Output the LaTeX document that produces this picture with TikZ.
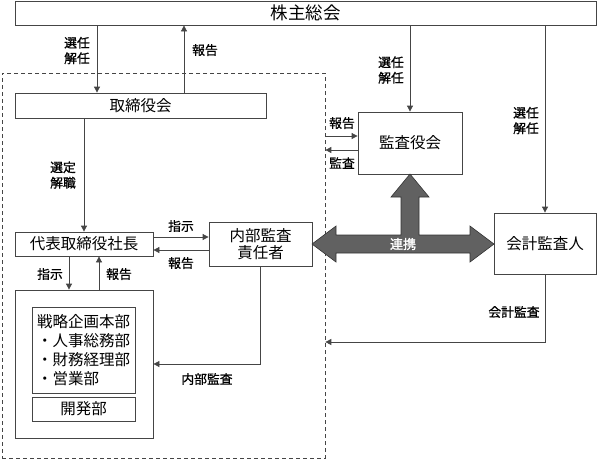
\documentclass[tikz,border=0pt]{standalone}
\usepackage{fontspec}
\setmainfont{Noto Sans CJK JP}
\newfontfamily\lblfont[FakeBold=0.8]{Noto Sans CJK JP}
\newfontfamily\rkfont[FakeBold=1.5]{Noto Sans CJK JP}
\usetikzlibrary{arrows.meta}
\definecolor{linec}{HTML}{454545}
\definecolor{bigfill}{HTML}{616161}
\begin{document}
\begin{tikzpicture}[x=1pt,y=-1pt,
  box/.style={draw=linec, line width=0.8pt, fill=white, inner sep=0pt, align=center, font=\fontsize{15.5}{17}\selectfont},
  lbl/.style={inner sep=0pt, align=center, font=\lblfont\fontsize{12.8}{15.5}\selectfont},
  arr/.style={draw=linec, line width=0.8pt, -{Triangle[length=6pt,width=6pt]}},
  grpbox/.style={draw=linec, line width=0.7pt, dash pattern=on 4pt off 3pt, inner sep=0pt}]
\useasboundingbox (0,0) rectangle (597,459);
% helper coordinates
\coordinate (x97) at (97,0);
\coordinate (x184) at (184,0);
\coordinate (x69) at (69,0);
\coordinate (x99) at (99,0);
\coordinate (y136) at (0,136);
\coordinate (y150) at (0,150);
\coordinate (y237) at (0,237);
\coordinate (y250) at (0,250);
\coordinate (y342) at (0,342);
% dashed group
\node[grpbox, minimum width=323pt, minimum height=385pt] (grp) at (163.5,265.5) {};
% boxes
\node[box, minimum width=581pt, minimum height=24pt, font=\fontsize{17.5}{19}\selectfont] (sh) at (305.5,13) {株主総会};
\node[box, minimum width=251pt, minimum height=25pt] (tb) at (140.5,105.5) {取締役会};
\node[box, minimum width=104pt, minimum height=62pt] (ka) at (410,143) {監査役会};
\node[box, minimum width=102pt, minimum height=61pt] (ks) at (545,243.5) {会計監査人};
\node[box, minimum width=138pt, minimum height=24pt] (dp) at (84,244) {代表取締役社長};
\node[box, minimum width=103pt, minimum height=44pt] (nb) at (260.5,244) {内部監査\\責任者};
\node[box, minimum width=138pt, minimum height=148pt] (dept) at (84,364) {};
\node[box, minimum width=103pt, minimum height=86pt, align=left, font=\fontsize{15.5}{19}\selectfont] (sen) at (83.5,350) {戦略企画本部\\・人事総務部\\・財務経理部\\・営業部};
\node[box, minimum width=103pt, minimum height=24pt] (kai) at (83.5,409) {開発部};
% connectors
\draw[arr] (x97 |- sh.south) -- (x97 |- tb.north);
\draw[arr] (x184 |- tb.north) -- (x184 |- sh.south);
\draw[arr] (tb.south -| dp.north) -- (dp.north);
\draw[arr] (y237 -| dp.east) -- (y237 -| nb.west);
\draw[arr] (y250 -| nb.west) -- (y250 -| dp.east);
\draw[arr] (x69 |- dp.south) -- (x69 |- dept.north);
\draw[arr] (x99 |- dept.north) -- (x99 |- dp.south);
\draw[arr] (nb.south) |- (dept.east);
\draw[arr] (ka.north |- sh.south) -- (ka.north);
\draw[arr] (y136 -| grp.east) -- (y136 -| ka.west);
\draw[arr] (y150 -| ka.west) -- (y150 -| grp.east);
\draw[arr] (ks.north |- sh.south) -- (ks.north);
\draw[arr] (ks.south) |- (y342 -| grp.east);
% big cooperation arrow
\draw[fill=bigfill, draw=black!80, line width=0.6pt, line join=miter]
  (312,244) -- (336,226) -- (336,235) -- (401,235) -- (401,197) -- (391,197) -- (410,174)
  -- (429,197) -- (419,197) -- (419,235) -- (470,235) -- (470,226) -- (494,244)
  -- (470,262) -- (470,253) -- (336,253) -- (336,262) -- cycle;
\node[lbl, text=white, font=\rkfont\fontsize{13}{15}\selectfont] (rk) at (403,244) {連携};
% labels
\node[lbl] (l1) at (77,50.5) {選任\\解任};
\node[lbl] (l2) at (205,50) {報告};
\node[lbl] (l3) at (63,175) {選定\\解職};
\node[lbl] (l4) at (181,226) {指示};
\node[lbl] (l5) at (181,263) {報告};
\node[lbl] (l6) at (50,274) {指示};
\node[lbl] (l7) at (119,274) {報告};
\node[lbl] (l8) at (207,379) {内部監査};
\node[lbl] (l9) at (391,70) {選任\\解任};
\node[lbl] (l10) at (342,123) {報告};
\node[lbl] (l11) at (342,163) {監査};
\node[lbl] (l12) at (526,120.5) {選任\\解任};
\node[lbl] (l13) at (514,312) {会計監査};
\end{tikzpicture}
\end{document}
